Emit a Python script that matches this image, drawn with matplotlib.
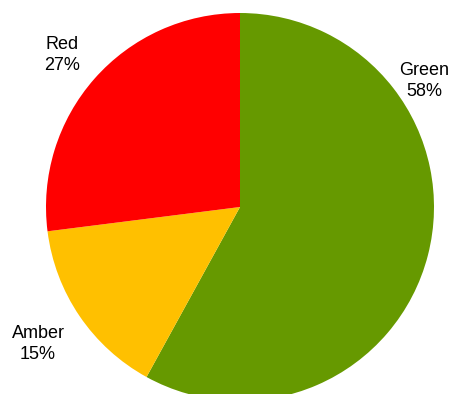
import matplotlib
matplotlib.use("Agg")
import matplotlib.pyplot as plt

categories = ["Green", "Amber", "Red"]
values = [58, 15, 27]
colors = ["#669900", "#FFC000", "#FF0000"]

plt.rcParams['font.family'] = ['Liberation Sans', 'DejaVu Sans']

fig = plt.figure(figsize=(4.54, 3.94), dpi=100)
ax = fig.add_axes([0, 0, 1, 1])
R = 194.0
cx, cy = 240.0, 207.0
W, H = 454.0, 394.0

labels = [f"{c}\n{v}%" for c, v in zip(categories, values)]
wedges, texts = ax.pie(values, colors=colors, startangle=90, counterclock=False,
                       labels=labels, labeldistance=1.22,
                       textprops=dict(fontsize=13, color="black", ha="center", va="center",
                                      multialignment="center", linespacing=1.35))
for t in texts:
    t.set_ha("center")
    t.set_va("center")
# best-fit label placement as in the reference
texts[0].set_position(((424 - cx) / R, (cy - 81) / R))
texts[1].set_position(((38 - cx) / R, (cy - 344) / R))
texts[2].set_position(((62 - cx) / R, (cy - 55) / R))

ax.set_xlim(-cx / R, (W - cx) / R)
ax.set_ylim(-(H - cy) / R, cy / R)
ax.set_aspect("auto")
ax.axis("off")
fig.savefig("out.png", dpi=100)
